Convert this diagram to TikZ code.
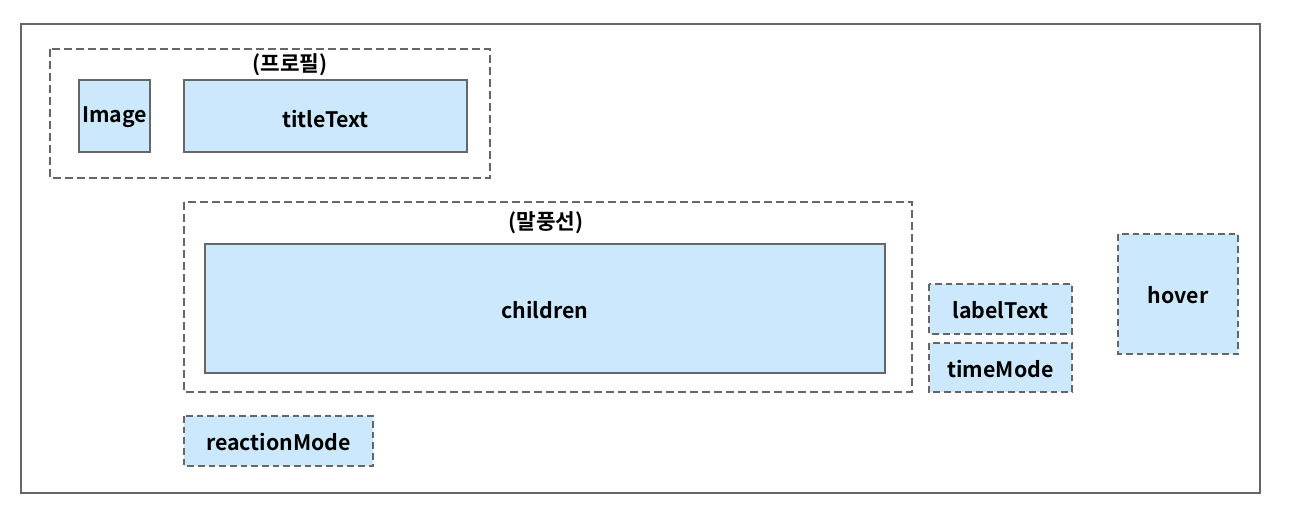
\documentclass[tikz,border=0pt]{standalone}
\usepackage{fontspec}
\setmainfont{Noto Sans CJK KR}[BoldFont={* Bold}]
\definecolor{bfill}{HTML}{CCE8FC}
\definecolor{bline}{HTML}{666666}
\begin{document}
\begin{tikzpicture}[x=0.75pt,y=-0.75pt,
  solidbox/.style={draw=bline,line width=1.5pt,fill=bfill},
  dashbox/.style={draw=bline,line width=1.5pt,dash pattern=on 5pt off 3pt,fill=bfill},
  groupbox/.style={draw=bline,line width=1.5pt,dash pattern=on 6pt off 3pt},
  lbl/.style={font=\fontsize{16}{18}\selectfont\bfseries,text=black}]
\useasboundingbox (0,0) rectangle (1298,520);
\draw[draw=bline,line width=1.5pt] (21,24) rectangle (1260,493);
\draw[groupbox] (50,49) rectangle (490,178);
\node[lbl] (g1) at (290,65) {(프로필)};
\draw[solidbox] (79,80) rectangle (150,152);
\node[lbl] (img) at (114.5,117) {Image};
\draw[solidbox] (184,80) rectangle (467,152);
\node[lbl] (tt) at (325.5,119) {titleText};
\draw[groupbox] (184,202) rectangle (912,392);
\node[lbl] (g2) at (546,223) {(말풍선)};
\draw[solidbox] (205,244) rectangle (885,373);
\node[lbl] (ch) at (545,310) {children};
\draw[dashbox] (929,284) rectangle (1072,334);
\node[lbl] (lt) at (1000.5,310) {labelText};
\draw[dashbox] (929,343) rectangle (1072,392);
\node[lbl] (tm) at (1000.5,369) {timeMode};
\draw[dashbox] (1118,234) rectangle (1238,354);
\node[lbl] (hv) at (1178,295) {hover};
\draw[dashbox] (184,416) rectangle (373,466);
\node[lbl] (rm) at (278.5,442) {reactionMode};
\end{tikzpicture}
\end{document}
